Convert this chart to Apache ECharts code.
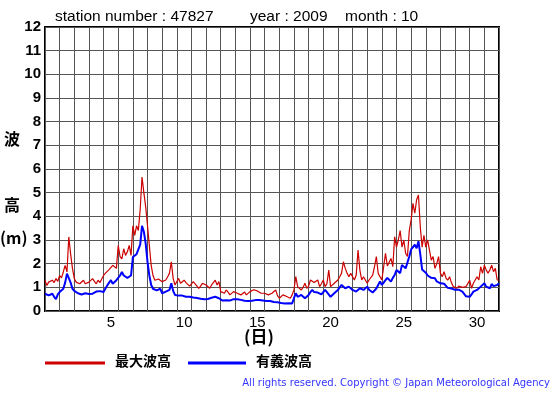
<!DOCTYPE html>
<html><head><meta charset="utf-8">
<script src="https://cdn.jsdelivr.net/npm/echarts@6/dist/echarts.min.js"></script>
<style>html,body{margin:0;padding:0;background:#fff;}#c{width:555px;height:395px;}</style>
</head><body><div id="c"></div>
<script>
// time axis: days of October 2009, sampled every 3 hours
const stepsPerDay = 8;
const dayTickLabels = [5, 10, 15, 20, 25, 30];
const yTicks = [0,1,2,3,4,5,6,7,8,9,10,11,12];
// 有義波高 (significant wave height, m)
const sigWave = [
 0.73,0.7,0.66,0.7,0.73,0.6,0.5,0.7,
 0.8,0.85,0.94,1.2,1.58,1.5,1.2,0.94,
 0.85,0.8,0.75,0.73,0.7,0.73,0.75,0.73,
 0.72,0.75,0.73,0.78,0.82,0.87,0.84,0.8,
 0.8,0.95,1.08,1.2,1.3,1.15,1.2,1.3,
 1.37,1.5,1.65,1.5,1.44,1.4,1.37,1.5,
 2.28,2.35,2.4,2.6,2.8,3.6,3.35,2.85,
 2.07,1.5,1.1,0.94,0.9,0.87,0.9,0.94,
 0.75,0.78,0.82,0.85,0.89,1.17,0.85,0.68,
 0.6,0.65,0.68,0.65,0.63,0.6,0.62,0.6,
 0.54,0.57,0.6,0.55,0.49,0.52,0.54,0.5,
 0.49,0.51,0.54,0.56,0.58,0.6,0.57,0.54,
 0.5,0.44,0.46,0.45,0.47,0.44,0.45,0.5,
 0.46,0.5,0.54,0.47,0.4,0.43,0.44,0.42,
 0.4,0.43,0.45,0.46,0.47,0.46,0.44,0.44,
 0.4,0.42,0.44,0.42,0.4,0.38,0.35,0.37,
 0.32,0.34,0.35,0.32,0.3,0.33,0.35,0.32,
 0.54,0.75,0.6,0.65,0.68,0.6,0.54,0.62,
 0.68,0.8,0.89,0.8,0.75,0.78,0.82,0.7,
 0.68,0.89,0.8,0.75,0.6,0.65,0.75,0.82,
 0.89,1.0,1.1,1.05,0.96,1.0,1.03,0.95,
 0.89,0.85,0.82,0.9,0.96,0.92,0.89,0.96,
 1.03,0.9,0.82,0.78,0.75,0.95,1.1,1.25,
 1.1,1.2,1.3,1.4,1.45,1.24,1.4,1.52,
 1.73,1.8,1.6,1.95,1.9,1.8,1.75,2.3,
 2.6,2.7,2.8,2.65,2.95,2.4,1.75,1.8,
 1.62,1.5,1.58,1.4,1.32,1.38,1.25,1.2,
 1.17,1.24,1.15,1.1,0.98,1.03,0.95,0.9,
 0.9,0.95,0.9,0.85,0.82,0.75,0.62,0.55,
 0.6,0.7,0.82,0.86,0.89,0.95,1.03,0.96,
 1.17,1.03,1.0,0.96,1.14,1.05,1.03,1.1,
 1.17
];
// 最大波高 (maximum wave height, m)
const maxWave = [
 1.3,1.08,1.22,1.15,1.3,1.2,1.37,1.25,
 1.5,1.4,1.65,1.93,1.65,3.13,2.4,1.8,
 1.37,1.22,1.3,1.15,1.2,1.3,1.15,1.08,
 1.22,1.15,1.37,1.25,1.15,1.3,1.2,1.35,
 1.5,1.6,1.65,1.75,1.8,1.93,1.9,1.8,
 2.77,2.3,2.2,2.63,2.35,2.5,2.77,2.35,
 3.6,3.2,3.6,3.4,4.3,5.66,5.0,4.4,
 3.6,2.77,1.93,1.5,1.3,1.22,1.35,1.3,
 1.24,1.28,1.31,1.45,1.6,2.08,1.38,1.1,
 1.1,1.38,1.17,1.25,1.3,1.2,1.17,1.05,
 1.03,1.24,1.15,1.1,0.96,1.05,1.17,1.1,
 1.1,1.05,0.96,1.1,1.17,1.3,1.1,1.24,
 0.82,0.78,0.75,0.89,0.8,0.68,0.75,0.82,
 0.82,0.75,0.72,0.68,0.75,0.8,0.68,0.75,
 0.82,0.88,0.9,0.96,0.85,0.82,0.75,0.68,
 0.75,0.72,0.68,0.7,0.75,0.8,0.89,0.65,
 0.54,0.6,0.68,0.65,0.61,0.58,0.54,0.68,
 0.89,1.45,1.03,0.95,0.89,1.0,1.17,0.96,
 1.05,1.31,1.38,1.2,1.24,1.31,1.03,1.15,
 1.31,1.03,1.15,1.73,1.03,1.1,1.17,1.25,
 1.31,1.45,1.6,2.08,1.8,1.6,1.45,1.59,
 1.59,1.31,1.52,2.58,1.73,1.31,1.45,1.4,
 1.17,1.31,1.25,1.52,1.87,2.3,1.59,1.45,
 1.31,1.87,2.44,1.9,1.87,2.22,1.87,3.14,
 2.7,3.0,3.4,2.7,3.0,2.44,2.3,3.4,
 3.85,4.55,4.13,4.7,4.9,3.56,2.7,3.2,
 2.7,3.0,2.58,2.15,2.3,1.8,2.0,2.3,
 1.6,1.45,1.66,1.4,1.3,1.45,1.2,1.03,
 1.0,0.96,1.05,1.1,1.0,0.96,1.03,0.98,
 1.3,0.96,1.17,1.25,1.45,1.31,1.87,1.59,
 1.94,1.73,1.6,1.73,1.94,1.66,1.8,1.31,
 1.3
];
const times = maxWave.map((_, i) => 1 + i / stepsPerDay);

const chart = echarts.init(document.getElementById('c'), null, {renderer: 'canvas'});
const F = '"Liberation Sans", Arial, sans-serif';
const J = '"Noto Sans CJK JP", sans-serif';
chart.setOption({
  animation: false,
  backgroundColor: '#fff',
  grid: {left: 45, right: 56, top: 27, bottom: 84, show: true, borderColor: '#000', borderWidth: 2, backgroundColor: 'transparent'},
  xAxis: [
    {type: 'value', min: 1, max: 32, interval: 1,
     axisLine: {show: false}, axisTick: {show: false}, axisLabel: {show: false},
     splitLine: {show: true, lineStyle: {color: '#555', width: 1}}},
    {type: 'value', position: 'bottom', min: 0.5, max: 31.5, interval: 0.5,
     axisLine: {show: false}, axisTick: {show: false}, splitLine: {show: false},
     axisLabel: {show: true, margin: 4, color: '#000', fontFamily: F, fontSize: 15,
       formatter: v => dayTickLabels.includes(v) ? String(v) : ''}}
  ],
  yAxis: {type: 'value', min: 0, max: 12, interval: 1,
    axisLine: {show: false}, axisTick: {show: false},
    splitLine: {show: true, lineStyle: {color: '#555', width: 1}},
    axisLabel: {margin: 4, color: '#000', fontFamily: F, fontSize: 15, fontWeight: 'bold',
      formatter: v => yTicks.includes(v) ? String(v) : ''}},
  series: [
    {name: '最大波高', type: 'line', xAxisIndex: 0, showSymbol: false, symbol: 'none',
     data: times.map((t, i) => [t, maxWave[i]]),
     lineStyle: {color: '#cc0000', width: 1.2}, z: 3},
    {name: '有義波高', type: 'line', xAxisIndex: 0, showSymbol: false, symbol: 'none',
     data: times.map((t, i) => [t, sigWave[i]]),
     lineStyle: {color: '#0000ff', width: 2}, z: 4}
  ],
  graphic: [
    {type: 'text', left: 55, top: 9, style: {text: 'station number : 47827', font: '15.5px ' + F, fill: '#000'}},
    {type: 'text', left: 250, top: 9, style: {text: 'year : 2009', font: '15.5px ' + F, fill: '#000'}},
    {type: 'text', left: 345, top: 9, style: {text: 'month : 10', font: '15.5px ' + F, fill: '#000'}},
    {type: 'text', left: 4, top: 131, style: {text: '波', font: 'bold 16px ' + J, fill: '#000'}},
    {type: 'text', left: 4, top: 197, style: {text: '高', font: 'bold 16px ' + J, fill: '#000'}},
    {type: 'text', left: 0, top: 230, style: {text: '(m)', font: 'bold 16px ' + J, fill: '#000'}},
    {type: 'text', left: 244, top: 328, style: {text: '(日)', font: 'bold 17px ' + J, fill: '#000'}},
    {type: 'line', shape: {x1: 45, y1: 363, x2: 105, y2: 363}, style: {stroke: '#cc0000', lineWidth: 3}},
    {type: 'text', left: 115, top: 354, style: {text: '最大波高', font: 'bold 14px ' + J, fill: '#000'}},
    {type: 'line', shape: {x1: 188, y1: 363, x2: 246, y2: 363}, style: {stroke: '#0000ff', lineWidth: 3}},
    {type: 'text', left: 256, top: 354, style: {text: '有義波高', font: 'bold 14px ' + J, fill: '#000'}},
    {type: 'text', right: 5, top: 378, style: {text: 'All rights reserved. Copyright © Japan Meteorological Agency', font: '10px "DejaVu Sans", sans-serif', fill: '#3333ff'}}
  ]
});
</script></body></html>
